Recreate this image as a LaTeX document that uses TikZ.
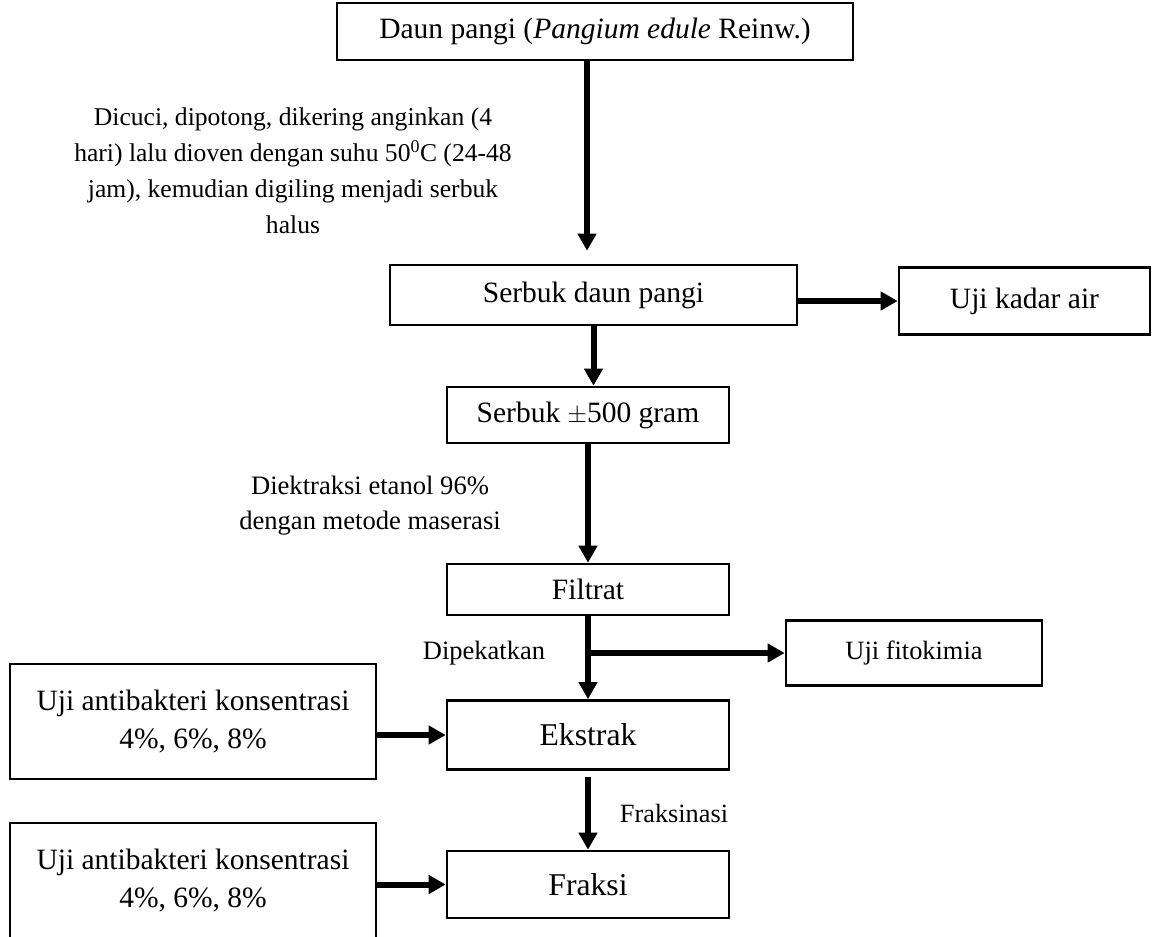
\documentclass[tikz,border=0pt]{standalone}
\usepackage{fontspec}
\setmainfont{Liberation Serif}
\usetikzlibrary{arrows.meta}
\begin{document}
\begin{tikzpicture}[x=1pt,y=-1pt,
  box/.style={draw, line width=2.6pt, inner sep=0pt, align=center, font=\fontsize{29.5}{38}\selectfont},
  bigbox/.style={box, font=\fontsize{31.7}{38}\selectfont},
  smallbox/.style={box, font=\fontsize{26.4}{34}\selectfont},
  arr/.style={line width=6pt, -{Triangle[length=17pt,width=18pt]}},
  lbl/.style={inner sep=0pt, align=center}]
\useasboundingbox (0,0) rectangle (1157,937);
\clip (0,0) rectangle (1157,937);
% boxes
\node[box, minimum width=516pt, minimum height=57pt] (top) at (595,31.5) {Daun pangi (\textit{Pangium edule} Reinw.)};
\node[box, minimum width=407pt, minimum height=60pt] (serbuk) at (593.5,295) {Serbuk daun pangi};
\node[box, minimum width=251pt, minimum height=67pt] (kadar) at (1024.5,301) {Uji kadar air};
\node[box, minimum width=282pt, minimum height=56pt] (s500) at (588,415) {Serbuk $\pm$500 gram};
\node[box, minimum width=282pt, minimum height=51pt] (filtrat) at (588,589.5) {Filtrat};
\node[smallbox, minimum width=256pt, minimum height=65pt] (fito) at (914,653) {Uji fitokimia};
\node[bigbox, minimum width=282pt, minimum height=69pt] (ekstrak) at (588,735) {Ekstrak};
\node[bigbox, minimum width=282pt, minimum height=67pt] (fraksi) at (588,884.5) {Fraksi};
\node[box, minimum width=366pt, minimum height=115pt] (ab1) at (193,721.5) {Uji antibakteri konsentrasi\\4\%, 6\%, 8\%};
\node[box, minimum width=366pt, minimum height=115pt] (ab2) at (193,880.5) {Uji antibakteri konsentrasi\\4\%, 6\%, 8\%};
% labels
\node[lbl, font=\fontsize{25.6}{36}\selectfont] (ann1) at (293,171) {Dicuci, dipotong, dikering anginkan (4\\hari) lalu dioven dengan suhu 50\textsuperscript{0}C (24-48\\jam), kemudian digiling menjadi serbuk\\halus};
\node[lbl, font=\fontsize{26.6}{35}\selectfont] (ann2) at (370,505.5) {Diektraksi etanol 96\%\\dengan metode maserasi};
\node[lbl, font=\fontsize{26.5}{32}\selectfont] (dipek) at (484,653) {Dipekatkan};
\node[lbl, font=\fontsize{26.3}{32}\selectfont] (fraks) at (674,813) {Fraksinasi};
% connectors
\coordinate (c1) at (587,0);
\draw[arr, shorten >=13pt] (top.south -| c1) -- (serbuk.north -| c1);
\draw[arr] (serbuk.east |- kadar.west) -- (kadar.west);
\draw[arr] (serbuk.south) -- (serbuk.south |- s500.north);
\draw[arr] (s500.south) -- (filtrat.north);
\draw[arr] (filtrat.south) -- (ekstrak.north);
\coordinate (br) at (filtrat.south |- fito.west);
\draw[arr] (br) -- (fito.west);
\draw[arr] (ab1.east |- ekstrak.west) -- (ekstrak.west);
\draw[arr, shorten <=6pt] (ekstrak.south) -- (fraksi.north);
\draw[arr] (ab2.east |- fraksi.west) -- (fraksi.west);
\end{tikzpicture}
\end{document}
